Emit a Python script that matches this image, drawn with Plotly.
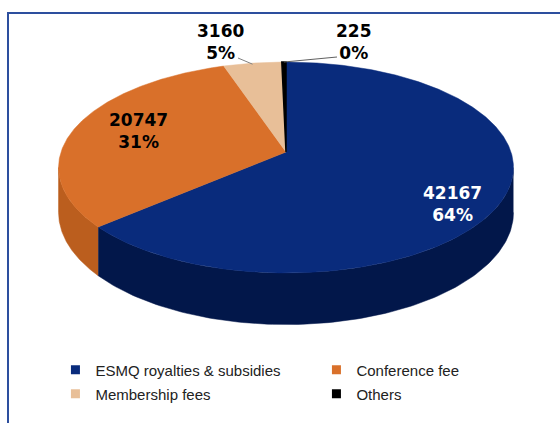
import numpy as np
import plotly.graph_objects as go

labels = ["ESMQ royalties & subsidies", "Conference fee", "Membership fees", "Others"]
values = [42167, 20747, 3160, 225]
top_colors = ["#092b7c", "#d9702a", "#e8bf98", "#000000"]
side_colors = ["#02174a", "#bb5e1e", "#c89f78", "#000000"]
label_text_colors = ["white", "black", "black", "black"]
legend_rows = ["legend", "legend", "legend2", "legend2"]

# geometry (pixel space): tilted disc with mild perspective
CX, CY, RX, RY, K, DEPTH = 286, 152, 225, 103.2, 0.147, 44

def pt(theta_deg, side=False):
    t = np.radians(theta_deg)
    z = np.cos(t)              # +1 = far (top), -1 = near (bottom)
    s = 1.0 / (1.0 + K * z)
    x = CX + RX * np.sin(t) * s
    y = CY - RY * z * s
    if side:
        y = y + DEPTH * s
    return x, y

total = sum(values)
fracs = [v / total for v in values]
starts = np.concatenate([[0], np.cumsum(fracs)[:-1]]) * 360
ends = np.cumsum(fracs) * 360

fig = go.Figure()

# side walls (visible front part between silhouette angles)
sil = np.degrees(np.arccos(-K))
for i in range(len(values)):
    a0, a1 = max(starts[i], sil), min(ends[i], 360 - sil)
    if a1 <= a0:
        continue
    th = np.linspace(a0, a1, 120)
    xs_t, ys_t = pt(th)
    xs_b, ys_b = pt(th[::-1], side=True)
    fig.add_trace(go.Scatter(
        x=np.concatenate([xs_t, xs_b]), y=np.concatenate([ys_t, ys_b]),
        fill="toself", mode="lines", line=dict(width=0.5, color=side_colors[i]),
        fillcolor=side_colors[i], showlegend=False, hoverinfo="skip"))

# top faces
for i in range(len(values)):
    th = np.linspace(starts[i], ends[i], max(int((ends[i] - starts[i]) * 2), 4))
    xs, ys = pt(th)
    xs = np.concatenate([[CX], xs, [CX]])
    ys = np.concatenate([[CY], ys, [CY]])
    fig.add_trace(go.Scatter(
        x=xs, y=ys, fill="toself", mode="lines",
        line=dict(width=0.5 if i < 3 else 1.5, color=top_colors[i]),
        fillcolor=top_colors[i], showlegend=False,
        name=labels[i], hoverinfo="name"))

# legend entries
for i in range(len(values)):
    fig.add_trace(go.Scatter(
        x=[None], y=[None], mode="markers", name=labels[i], legend=legend_rows[i],
        marker=dict(symbol="square", size=9, color=top_colors[i])))

# data labels
pct = [round(f * 100) for f in fracs]
label_pos = [(452, 204), (138, 131), (220, 42), (354, 42)]
for i in range(len(values)):
    fig.add_annotation(
        x=label_pos[i][0], y=label_pos[i][1],
        text=f"<b>{values[i]}<br>{pct[i]}%</b>", showarrow=False,
        font=dict(family="DejaVu Sans", size=17, color=label_text_colors[i]),
        align="center")

# leader lines for small slices
p3 = pt((starts[2] + ends[2]) / 2)
fig.add_shape(type="line", x0=238, y0=58, x1=p3[0], y1=p3[1] + 1,
              line=dict(color="#808080", width=1))
p4 = pt((starts[3] + ends[3]) / 2)
fig.add_shape(type="line", x0=337, y0=57, x1=p4[0], y1=p4[1],
              line=dict(color="#606060", width=1))

# frame
fig.add_shape(type="rect", x0=8, y0=13, x1=580, y1=440,
              line=dict(color="#2d4f9e", width=2))

leg_common = dict(orientation="h", xanchor="left", yanchor="middle",
                  entrywidth=216, entrywidthmode="pixels", itemwidth=30,
                  font=dict(family="Liberation Sans", size=15, color="#222222"),
                  bgcolor="rgba(0,0,0,0)")

fig.update_layout(
    width=560, height=423, margin=dict(l=0, r=0, t=0, b=0, autoexpand=False),
    paper_bgcolor="white", plot_bgcolor="white",
    xaxis=dict(range=[0, 560], visible=False, fixedrange=True),
    yaxis=dict(range=[423, 0], visible=False, fixedrange=True),
    showlegend=True,
    legend=dict(x=0.099, y=1 - 370 / 423, **leg_common),
    legend2=dict(x=0.099, y=1 - 394 / 423, **leg_common),
)

fig.write_html("out.html")
